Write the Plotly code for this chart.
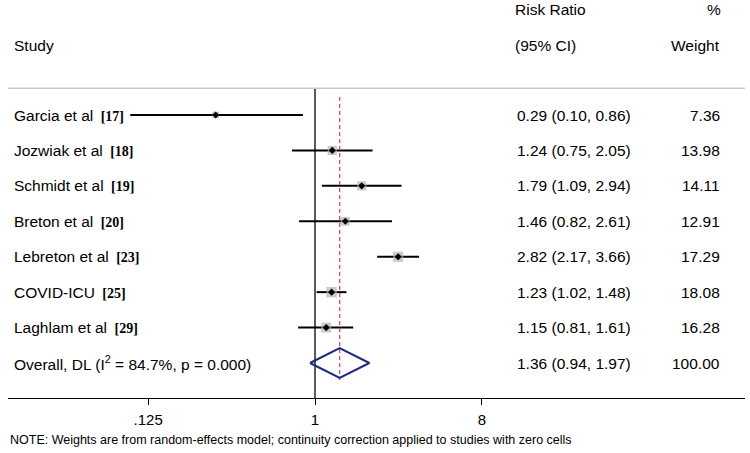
import plotly.graph_objects as go

# ---- data ----
studies = ["Garcia et al", "Jozwiak et al", "Schmidt et al", "Breton et al",
           "Lebreton et al", "COVID-ICU", "Laghlam et al"]
refs = ["[17]", "[18]", "[19]", "[20]", "[23]", "[25]", "[29]"]
rr = [0.29, 1.24, 1.79, 1.46, 2.82, 1.23, 1.15]
ci_lo = [0.10, 0.75, 1.09, 0.82, 2.17, 1.02, 0.81]
ci_hi = [0.86, 2.05, 2.94, 2.61, 3.66, 1.48, 1.61]
weights = [7.36, 13.98, 14.11, 12.91, 17.29, 18.08, 16.28]
overall_label = "Overall, DL (I<sup>2</sup> = 84.7%, p = 0.000)"
overall_rr, overall_lo, overall_hi, overall_w = 1.36, 0.94, 1.97, 100.00
tick_vals = [0.125, 1, 8]
tick_text = [".125", "1", "8"]
note = "NOTE: Weights are from random-effects model; continuity correction applied to studies with zero cells"

W, H = 750, 453
FONT = "Liberation Sans, Arial, sans-serif"
n = len(studies)
rows = list(range(1, n + 1))
overall_row = n + 1

fig = go.Figure()

# CI lines
xs, ys = [], []
for r, a, b in zip(rows, ci_lo, ci_hi):
    xs += [a, b, None]
    ys += [r, r, None]
fig.add_trace(go.Scatter(x=xs, y=ys, mode="lines",
                         line=dict(color="black", width=2), hoverinfo="skip"))

# weight squares
fig.add_trace(go.Scatter(x=rr, y=rows, mode="markers",
                         marker=dict(symbol="square", color="#b4b4b4",
                                     size=[2.45 * w ** 0.5 for w in weights],
                                     line=dict(width=0)),
                         hoverinfo="skip"))
# point estimates
fig.add_trace(go.Scatter(x=rr, y=rows, mode="markers",
                         marker=dict(symbol="diamond", color="black", size=5.5,
                                     line=dict(width=0)),
                         hoverinfo="skip"))

# null line (solid)
fig.add_trace(go.Scatter(x=[1, 1], y=[0.238, 9.2], mode="lines",
                         line=dict(color="black", width=1.3), hoverinfo="skip"))
# overall dashed line
fig.add_trace(go.Scatter(x=[overall_rr, overall_rr], y=[0.49, 8.48], mode="lines",
                         line=dict(color="#c4585c", width=1.3, dash="4px,3px"),
                         hoverinfo="skip"))
# overall diamond
hh = 0.42
fig.add_trace(go.Scatter(
    x=[overall_lo, overall_rr, overall_hi, overall_rr, overall_lo],
    y=[overall_row, overall_row - hh, overall_row, overall_row + hh, overall_row],
    mode="lines", line=dict(color="#1b2a80", width=2), hoverinfo="skip"))

annotations = []
def txt(x, y, s, anchor="left", yref="y", size=15.5):
    annotations.append(dict(x=x, y=y, xref="paper", yref=yref, text=s,
                            showarrow=False, xanchor=anchor, yanchor="middle",
                            font=dict(family=FONT, size=size, color="black")))

# headers
txt(513 / W, 0.975, "Risk Ratio", yref="paper")
txt(723 / W, 0.975, "%", anchor="right", yref="paper")
txt(12 / W, 0.885, "Study", yref="paper")
txt(513 / W, 0.885, "(95% CI)", yref="paper")
txt(722 / W, 0.885, "Weight", anchor="right", yref="paper")

for r, s, ref, e, a, b, w in zip(rows, studies, refs, rr, ci_lo, ci_hi, weights):
    label = (f"{s}\u00a0\u2009<span style=\"font-family:'Liberation Serif', 'Times New Roman', serif;"
             f"font-size:14px\"><b>{ref}</b></span>")
    txt(12 / W, r, label)
    txt(515 / W, r, f"{e:.2f} ({a:.2f}, {b:.2f})")
    txt(722 / W, r, f"{w:.2f}", anchor="right")

txt(12 / W, overall_row, overall_label)
txt(515 / W, overall_row, f"{overall_rr:.2f} ({overall_lo:.2f}, {overall_hi:.2f})")
txt(722 / W, overall_row, f"{overall_w:.2f}", anchor="right")

# note
txt(8 / W, -0.1055, note, yref="paper", size=12.5)

shapes = [dict(type="line", xref="paper", yref="paper",
               x0=8 / W, x1=745 / W, y0=(398 - 88.3) / 398, y1=(398 - 88.3) / 398,
               line=dict(color="#c8c8c8", width=1.5))]

px_per_dec = 55.6 / 0.30103
fig.update_layout(
    width=W, height=H,
    margin=dict(l=0, r=0, t=0, b=55, pad=0),
    paper_bgcolor="white", plot_bgcolor="white",
    showlegend=False,
    annotations=annotations, shapes=shapes,
    xaxis=dict(type="log", domain=[8 / W, 745 / W],
               range=[(8 - 315) / px_per_dec, (745 - 315) / px_per_dec],
               tickvals=tick_vals, ticktext=tick_text,
               ticks="outside", ticklen=6, tickcolor="black", tickwidth=1.2,
               showline=True, linecolor="black", linewidth=1.3,
               showgrid=False, zeroline=False, ticklabelstandoff=2,
               tickfont=dict(family=FONT, size=15, color="black")),
    yaxis=dict(range=[8.988, -2.246], visible=False, showgrid=False, zeroline=False),
)

fig.write_html("out.html")
